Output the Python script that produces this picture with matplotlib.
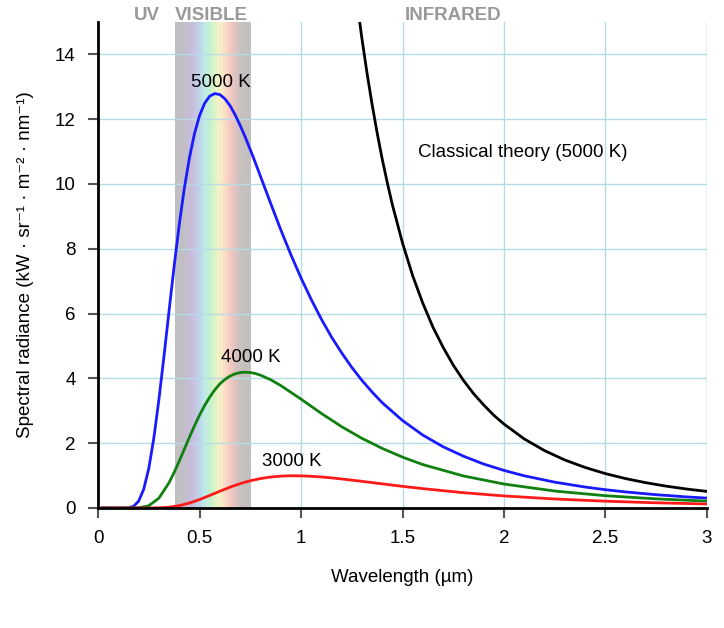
import matplotlib
matplotlib.use("Agg")
import matplotlib.pyplot as plt
import numpy as np
from matplotlib.colors import LinearSegmentedColormap

plt.rcParams['font.family'] = ['Liberation Sans', 'DejaVu Sans']

# Wavelengths (µm) and spectral radiance (kW·sr⁻¹·m⁻²·nm⁻¹)
wl_5000 = [0.02, 0.1, 0.15, 0.175, 0.2, 0.225, 0.25, 0.275, 0.3, 0.325, 0.35, 0.375,
           0.4, 0.425, 0.45, 0.475, 0.5, 0.525, 0.55, 0.575, 0.6, 0.625, 0.65, 0.675, 0.7,
           0.725, 0.75, 0.775, 0.8, 0.85, 0.9, 0.95, 1.0, 1.05, 1.1, 1.15, 1.2, 1.25, 1.3, 1.35,
           1.4, 1.5, 1.6, 1.7, 1.8, 1.9, 2.0, 2.1, 2.25, 2.4, 2.5, 2.6, 2.75, 2.9, 3.0]
rad_5000 = [0.0, 0.0, 0.0073, 0.052, 0.21, 0.577, 1.22, 2.16, 3.35, 4.69, 6.09, 7.47,
            8.74, 9.86, 10.80, 11.55, 12.11, 12.49, 12.71, 12.79, 12.76, 12.63, 12.42, 12.14, 11.81,
            11.45, 11.06, 10.66, 10.24, 9.41, 8.59, 7.82, 7.10, 6.44, 5.83, 5.28, 4.79, 4.34, 3.94, 3.58,
            3.25, 2.70, 2.25, 1.89, 1.60, 1.356, 1.16, 0.993, 0.797, 0.646, 0.564, 0.495, 0.410, 0.342, 0.305]

wl_4000 = [0.02, 0.15, 0.2, 0.25, 0.3, 0.35, 0.375, 0.4, 0.425, 0.45, 0.475, 0.5, 0.525, 0.55,
           0.575, 0.6, 0.625, 0.65, 0.675, 0.7, 0.725, 0.75, 0.775, 0.8, 0.85, 0.9, 0.95, 1.0,
           1.1, 1.2, 1.3, 1.4, 1.5, 1.6, 1.8, 2.0, 2.25, 2.5, 2.75, 3.0]
rad_4000 = [0.0, 0.0, 0.006, 0.069, 0.304, 0.781, 1.097, 1.446, 1.813, 2.18, 2.535, 2.865, 3.162, 3.42,
            3.644, 3.83, 3.967, 4.07, 4.14, 4.18, 4.19, 4.18, 4.15, 4.10, 3.96, 3.78, 3.57, 3.36,
            2.92, 2.51, 2.15, 1.84, 1.57, 1.34, 0.989, 0.739, 0.523, 0.379, 0.281, 0.212]

wl_3000 = [0.02, 0.2, 0.25, 0.3, 0.35, 0.4, 0.45, 0.5, 0.55, 0.6, 0.65, 0.675, 0.7, 0.725, 0.75,
           0.8, 0.85, 0.9, 0.95, 1.0, 1.05, 1.1, 1.15, 1.2, 1.3, 1.4, 1.5, 1.6, 1.8, 2.0, 2.25,
           2.5, 2.75, 3.0]
rad_3000 = [0.0, 0.0, 0.0006, 0.0056, 0.025, 0.072, 0.152, 0.260, 0.387, 0.517, 0.642, 0.698, 0.751, 0.798, 0.840,
            0.908, 0.955, 0.983, 0.995, 0.992, 0.979, 0.957, 0.929, 0.896, 0.823, 0.745, 0.668, 0.597, 0.472, 0.372, 0.278,
            0.210, 0.160, 0.124]

wl_classical = [1.28, 1.3, 1.325, 1.35, 1.375, 1.4, 1.425, 1.45, 1.5, 1.55, 1.6, 1.65, 1.7, 1.75,
                1.8, 1.85, 1.9, 1.95, 2.0, 2.1, 2.2, 2.3, 2.4, 2.5, 2.6, 2.7, 2.8, 2.9, 3.0]
rad_classical = [15.42, 14.49, 13.43, 12.46, 11.58, 10.77, 10.04, 9.36, 8.18, 7.17, 6.32, 5.58, 4.96, 4.41,
                 3.94, 3.53, 3.18, 2.86, 2.59, 2.13, 1.77, 1.48, 1.25, 1.06, 0.906, 0.779, 0.673, 0.585, 0.511]

x_ticks = [0, 0.5, 1, 1.5, 2, 2.5, 3]
x_tick_labels = ['0', '0.5', '1', '1.5', '2', '2.5', '3']
y_ticks = [0, 2, 4, 6, 8, 10, 12, 14]
visible_range = [0.38, 0.75]

fig = plt.figure(figsize=(7.24, 6.28), dpi=100)
ax = fig.add_axes([0.1354, 0.1911, 0.8411, 0.7739])

# visible band gradient
band_cmap = LinearSegmentedColormap.from_list('band', [
    (0.00, '#c0bfc1'), (0.10, '#c2bfc6'), (0.22, '#c9bcdb'), (0.33, '#c2d4ea'),
    (0.38, '#bfeaea'), (0.47, '#c6f2cc'), (0.56, '#eef5c6'), (0.62, '#fbeac8'),
    (0.72, '#f9c9c2'), (0.82, '#d5c3c1'), (0.90, '#c4c0bf'), (1.00, '#c4c0bf')])
grad = np.linspace(0, 1, 256).reshape(1, -1)
ax.imshow(grad, extent=[visible_range[0], visible_range[1], 0, 15], aspect='auto',
          cmap=band_cmap, zorder=0.5, interpolation='bilinear')

ax.set_xlim(0, 3)
ax.set_ylim(0, 15)
ax.set_xticks(x_ticks)
ax.set_xticklabels(x_tick_labels)
ax.set_yticks(y_ticks)
ax.grid(True, color='#b3dce6', linewidth=1.0, zorder=1)
ax.axvline(3, color='#b3dce6', linewidth=1.0, zorder=1)
ax.set_axisbelow(False)

ax.plot(wl_classical, rad_classical, color='black', linewidth=2.0, zorder=3)
ax.plot(wl_5000, rad_5000, color='#1a1aff', linewidth=2.0, zorder=3)
ax.plot(wl_4000, rad_4000, color='#108010', linewidth=2.0, zorder=3)
ax.plot(wl_3000, rad_3000, color='#ff1a1a', linewidth=2.0, zorder=3)

fs = 13.5
ax.text(0.606, 13.14, '5000 K', ha='center', va='center', fontsize=fs, zorder=4)
ax.text(0.754, 4.63, '4000 K', ha='center', va='center', fontsize=fs, zorder=4)
ax.text(0.956, 1.42, '3000 K', ha='center', va='center', fontsize=fs, zorder=4)
ax.text(2.094, 10.98, 'Classical theory (5000 K)', ha='center', va='center', fontsize=fs, zorder=4)

for lab, xv in [('UV', 0.24), ('VISIBLE', 0.56), ('INFRARED', 1.75)]:
    ax.text(xv, 14.93, lab, ha='center', va='bottom', fontsize=fs, fontweight='bold',
            color='#999999', clip_on=False)

for s in ['top', 'right']:
    ax.spines[s].set_visible(False)
for s in ['left', 'bottom']:
    ax.spines[s].set_linewidth(2.0)
    ax.spines[s].set_color('black')
    ax.spines[s].set_zorder(5)

ax.tick_params(axis='both', direction='out', length=7.5, width=1.5, color='#555555',
               labelsize=fs, pad=8.5)
ax.set_xlabel('Wavelength (µm)', fontsize=fs, labelpad=16)
ax.set_ylabel('Spectral radiance (kW · sr⁻¹ · m⁻² · nm⁻¹)', fontsize=fs, labelpad=15)

fig.savefig('out.png', dpi=100)
